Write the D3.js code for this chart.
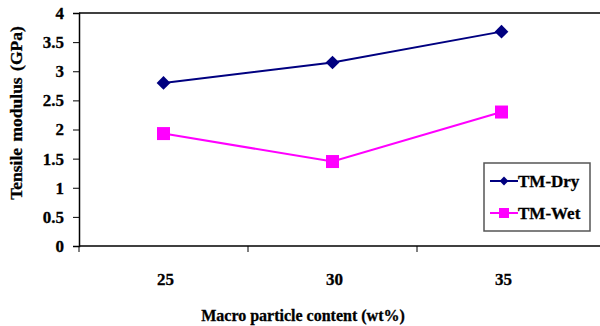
<!DOCTYPE html>
<html>
<head>
<meta charset="utf-8">
<script src="https://cdn.jsdelivr.net/npm/d3@7"></script>
<style>
  body { margin: 0; background: #fff; }
  text { font-family: "Liberation Serif", "Times New Roman", serif; font-weight: bold; }
</style>
</head>
<body>
<svg id="chart" width="600" height="326"></svg>
<script>
var categories = ["25", "30", "35"];
var tmDry = [2.8, 3.15, 3.68];
var tmWet = [1.93, 1.45, 2.3];
var yTicks = [0, 0.5, 1, 1.5, 2, 2.5, 3, 3.5, 4];

var svg = d3.select("#chart"),
    margin = {top: 13, left: 79},
    plotW = 507,
    plotH = 233,
    g = svg.append("g")
      .attr("transform", "translate(" + margin.left + "," + margin.top + ")");

var x = d3.scaleBand().domain(categories).range([0, plotW]);
var y = d3.scaleLinear().domain([0, 4]).range([plotH, 0]);

// top border of plot area
g.append("line")
  .attr("x1", 0).attr("x2", 540)
  .attr("y1", 0).attr("y2", 0)
  .attr("stroke", "#000").attr("stroke-width", 1.5);

// y axis
var yAxis = d3.axisLeft(y).tickValues(yTicks).tickSize(6)
  .tickFormat(function(d) { return String(d); });
var ya = g.append("g").call(yAxis);
ya.select(".domain").attr("stroke-width", 1.5);
ya.selectAll("text").attr("font-size", 17).attr("x", -15)
  .style("font-family", "Liberation Serif").style("font-weight", "bold")
  .attr("stroke", "#000").attr("stroke-width", 0.3);

// x axis
g.append("line")
  .attr("x1", 0).attr("x2", 540)
  .attr("y1", plotH).attr("y2", plotH)
  .attr("stroke", "#000").attr("stroke-width", 1.5);
g.selectAll(".xtick")
  .data(categories)
  .enter().append("line")
  .attr("class", "xtick")
  .attr("x1", function(d) { return x(d); })
  .attr("x2", function(d) { return x(d); })
  .attr("y1", plotH).attr("y2", plotH + 6)
  .attr("stroke", "#000");
g.selectAll(".xlabel")
  .data(categories)
  .enter().append("text")
  .attr("class", "xlabel")
  .attr("x", function(d) { return x(d) + x.bandwidth() / 2 + 2; })
  .attr("y", plotH + 39)
  .attr("text-anchor", "middle")
  .attr("font-size", 17)
  .attr("stroke", "#000").attr("stroke-width", 0.3)
  .text(function(d) { return d; });

// axis titles
svg.append("text")
  .attr("transform", "translate(22,113) rotate(-90)")
  .attr("text-anchor", "middle")
  .attr("font-size", 17.5)
  .attr("word-spacing", 2)
  .attr("stroke", "#000").attr("stroke-width", 0.3)
  .text("Tensile modulus (GPa)");
svg.append("text")
  .attr("x", 303).attr("y", 321)
  .attr("text-anchor", "middle")
  .attr("font-size", 16)
  .attr("stroke", "#000").attr("stroke-width", 0.3)
  .text("Macro particle content (wt%)");

var line = d3.line()
  .x(function(d, i) { return x(categories[i]) + x.bandwidth() / 2; })
  .y(function(d) { return y(d); });

var diamond = d3.symbol().type(d3.symbolDiamond2).size(120);

// TM-Dry
g.append("path").datum(tmDry)
  .attr("d", line).attr("fill", "none")
  .attr("stroke", "#000080").attr("stroke-width", 2);
g.selectAll(".dry")
  .data(tmDry)
  .enter().append("path")
  .attr("class", "dry")
  .attr("d", diamond)
  .attr("transform", function(d, i) {
    return "translate(" + (x(categories[i]) + x.bandwidth() / 2) + "," + y(d) + ")";
  })
  .attr("fill", "#000080");

// TM-Wet
g.append("path").datum(tmWet)
  .attr("d", line).attr("fill", "none")
  .attr("stroke", "#ff00ff").attr("stroke-width", 2);
g.selectAll(".wet")
  .data(tmWet)
  .enter().append("rect")
  .attr("class", "wet")
  .attr("x", function(d, i) { return x(categories[i]) + x.bandwidth() / 2 - 6.5; })
  .attr("y", function(d) { return y(d) - 6.5; })
  .attr("width", 13).attr("height", 13)
  .attr("fill", "#ff00ff");

// legend
var lg = svg.append("g").attr("transform", "translate(484,163)");
lg.append("rect")
  .attr("width", 106).attr("height", 68)
  .attr("fill", "#fff").attr("stroke", "#555").attr("stroke-width", 1.5);
var entries = [
  {name: "TM-Dry", color: "#000080", sym: "diamond"},
  {name: "TM-Wet", color: "#ff00ff", sym: "square"}
];
entries.forEach(function(e, i) {
  var cy = 18 + i * 32;
  lg.append("line")
    .attr("x1", 6).attr("x2", 34).attr("y1", cy).attr("y2", cy)
    .attr("stroke", e.color).attr("stroke-width", 2);
  if (e.sym === "diamond") {
    lg.append("path")
      .attr("d", d3.symbol().type(d3.symbolDiamond2).size(50))
      .attr("transform", "translate(20," + cy + ")")
      .attr("fill", e.color);
  } else {
    lg.append("rect")
      .attr("x", 15).attr("y", cy - 5).attr("width", 10).attr("height", 10)
      .attr("fill", e.color);
  }
  lg.append("text")
    .attr("x", 34).attr("y", cy + 6)
    .attr("font-size", 17)
    .attr("stroke", "#000").attr("stroke-width", 0.3)
    .text(e.name);
});
</script>
</body>
</html>
